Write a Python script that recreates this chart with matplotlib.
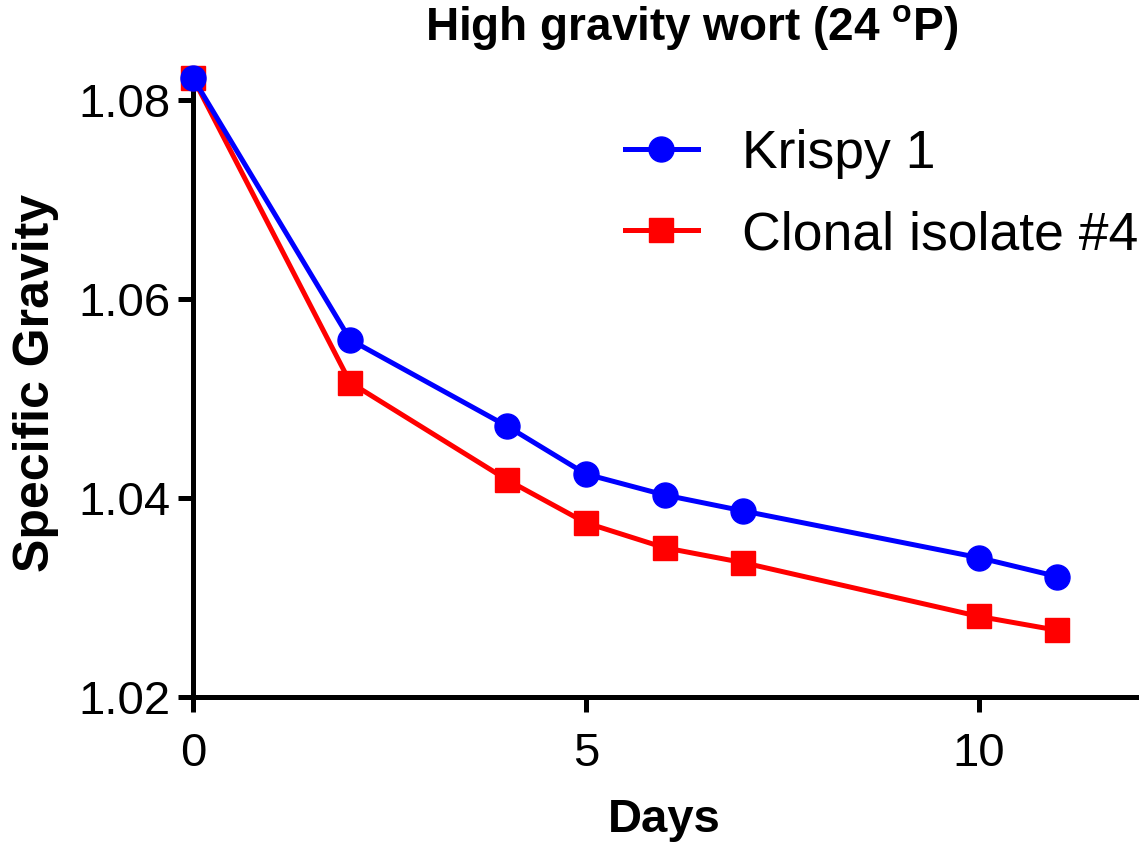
import matplotlib
matplotlib.use("Agg")
import matplotlib.pyplot as plt

days = [0, 2, 4, 5, 6, 7, 10, 11]
krispy1 = [1.0822, 1.0559, 1.0472, 1.0424, 1.0403, 1.0387, 1.0340, 1.0321]
clonal4 = [1.0822, 1.0516, 1.0418, 1.0375, 1.0350, 1.0335, 1.0281, 1.0267]
series_labels = ["Krispy 1", "Clonal isolate #4"]
x_ticks = [0, 5, 10]
y_ticks = [1.02, 1.04, 1.06, 1.08]
y_tick_labels = ["1.02", "1.04", "1.06", "1.08"]
title = r"High gravity wort (24 $^{\mathbf{o}}$P)"

plt.rcParams["font.family"] = ["Liberation Sans", "DejaVu Sans"]
plt.rcParams["mathtext.fontset"] = "custom"
plt.rcParams["mathtext.bf"] = "Liberation Sans:bold"
plt.rcParams["mathtext.rm"] = "Liberation Sans"

fig = plt.figure(figsize=(11.4, 8.5), dpi=100)
ax = fig.add_axes([193 / 1140, 0.18, (1136 - 193) / 1140, (697 - 70) / 850])

ax.plot(days, krispy1, color="#0000ff", lw=3.6, marker="o", ms=18,
        label=series_labels[0], zorder=4, clip_on=False)
ax.plot(days, clonal4, color="#ff0000", lw=3.6, marker="s", ms=17,
        label=series_labels[1], zorder=3, clip_on=False)

ax.set_xlim(0, 12)
ax.set_ylim(1.02, 1.083)
ax.set_xticks(x_ticks)
ax.set_yticks(y_ticks)
ax.set_yticklabels(y_tick_labels)

for s in ["top", "right"]:
    ax.spines[s].set_visible(False)
for s in ["left", "bottom"]:
    ax.spines[s].set_linewidth(3.6)
ax.tick_params(axis="both", width=3.6, length=11, labelsize=34)
ax.tick_params(axis="x", pad=14)
ax.tick_params(axis="y", pad=5)

ax.set_xlabel("Days", fontsize=34, fontweight="bold", labelpad=16)
ax.set_ylabel("Specific Gravity", fontsize=36, fontweight="bold", labelpad=14)

fig.text(692 / 1140, 1 - 27 / 850, title, fontsize=33, fontweight="bold",
         ha="center", va="center")

leg = ax.legend(loc="upper left", bbox_to_anchor=(625 / 1140, 1 - 129 / 850),
                bbox_transform=fig.transFigure, frameon=False, fontsize=38.5,
                handlelength=1.36, handletextpad=0.82, borderpad=0,
                borderaxespad=0, labelspacing=0.58, numpoints=1)

fig.savefig("out.png", dpi=100)
